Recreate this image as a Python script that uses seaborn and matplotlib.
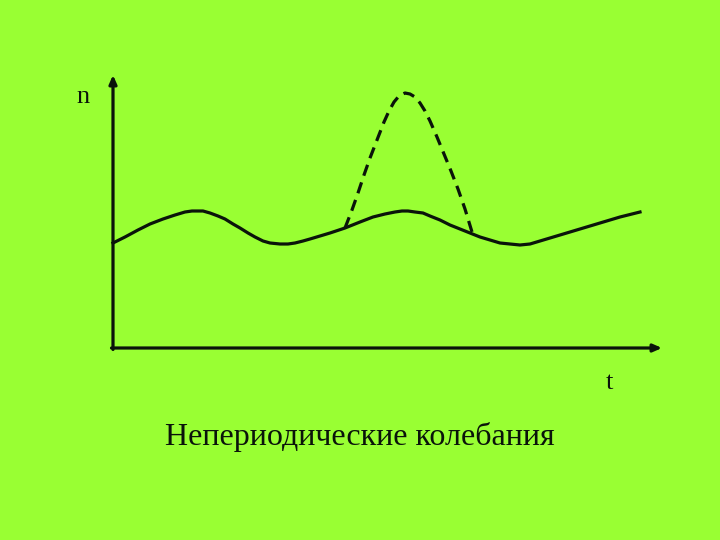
import numpy as np
import pandas as pd
import matplotlib
matplotlib.use("Agg")
import matplotlib.pyplot as plt
import seaborn as sns

# значения (t вправо от начала координат, n вверх)
t_base = [0, 12, 25, 37, 50, 62, 72, 79, 84, 90, 97, 105, 112, 120, 127, 135, 142, 150,
          157, 167, 175, 182, 190, 197, 207, 217, 232, 247, 260, 272, 282, 289, 295, 302,
          310, 317, 327, 337, 347, 357, 367, 377, 387, 397, 407, 417, 427, 447, 467, 487,
          507, 527]
n_base = [105, 111, 118, 124, 129, 133, 136, 137, 137, 137, 135, 132, 129, 124, 120, 115,
          111, 107, 105, 104, 104, 105, 107, 109, 112, 115, 120, 126, 131, 134, 136, 137,
          137, 136, 135, 132, 128, 123, 119, 115, 111, 108, 105, 104, 103, 104, 107, 113,
          119, 125, 131, 136]

t_peak = [232, 239, 245, 251, 257, 264, 271, 276, 281, 286, 292, 297, 302, 307, 312, 317,
          324, 331, 338, 345, 352, 359]
n_peak = [120, 138, 155, 173, 190, 208, 226, 237, 246, 252, 255, 254, 251, 245, 237, 227,
          211, 194, 177, 159, 139, 116]

t_max, n_max = 549, 273
bg = "#99ff33"
ink = "#0a140a"

base = pd.DataFrame({"t": t_base, "n": n_base})
peak = pd.DataFrame({"t": t_peak, "n": n_peak})

fig = plt.figure(figsize=(7.2, 5.4), dpi=100, facecolor=bg)
ax = fig.add_axes([0, 0, 1, 1])
ax.set_facecolor(bg)

sns.lineplot(data=peak, x="t", y="n", sort=False, ax=ax, color=ink, linewidth=2.3)
ax.lines[-1].set_dashes((3.6, 2.2))
sns.lineplot(data=base, x="t", y="n", sort=False, ax=ax, color=ink, linewidth=2.3)
for ln in ax.lines:
    ln.set_solid_joinstyle("round")
    ln.set_dash_joinstyle("round")

# оси со стрелками
arrow = dict(arrowstyle="-|>,head_length=0.5,head_width=0.22", color=ink, lw=2.3,
             shrinkA=0, shrinkB=0)
ax.annotate("", xy=(0, n_max), xytext=(0, -1.5), arrowprops=arrow)
ax.annotate("", xy=(t_max, 0), xytext=(-1.5, 0), arrowprops=arrow)

ax.text(-30, 251, "n", fontsize=19, family="Liberation Serif", ha="center", va="center", color=ink)
ax.text(496, -35, "t", fontsize=19, family="Liberation Serif", ha="center", va="center", color=ink)
ax.text(247, -89, "Непериодические колебания", fontsize=23, family="Liberation Serif",
        ha="center", va="center", color=ink)

ax.set_xlim(-113, 607)
ax.set_ylim(-192, 348)
ax.axis("off")

fig.savefig("out.png", dpi=100, facecolor=bg)
